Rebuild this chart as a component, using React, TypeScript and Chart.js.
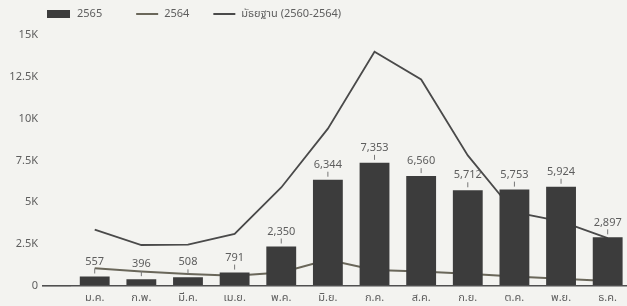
import React, { useEffect, useRef } from "react";
import { Chart, registerables } from "chart.js";

Chart.register(...registerables);

const months = ["ม.ค.", "ก.พ.", "มี.ค.", "เม.ย.", "พ.ค.", "มิ.ย.", "ก.ค.", "ส.ค.", "ก.ย.", "ต.ค.", "พ.ย.", "ธ.ค."];
const cases2565 = [557, 396, 508, 791, 2350, 6344, 7353, 6560, 5712, 5753, 5924, 2897];
const cases2564 = [1050, 850, 700, 600, 800, 1560, 950, 850, 720, 550, 420, 280];
const median2560to2564 = [3360, 2440, 2460, 3100, 5880, 9400, 14000, 12340, 7800, 4400, 3850, 2850];
const yTicks = [0, 2500, 5000, 7500, 10000, 12500, 15000];

const FONT = '"Noto Sans", "Noto Sans Thai", sans-serif';
const TEXT = "#5e5e5e";
const BAR = "#3c3c3c";
const LINE_MEDIAN = "#4a4a4a";
const LINE_2564 = "#6a675a";

const fmtK = (v: number) => (v === 0 ? "0" : `${v / 1000}K`);

const valueLabels = {
  id: "valueLabels",
  afterDatasetsDraw(chart: any) {
    const ctx = chart.ctx;
    const meta = chart.getDatasetMeta(0);
    const data = chart.data.datasets[0].data as number[];
    ctx.save();
    ctx.font = `11px ${FONT}`;
    ctx.fillStyle = TEXT;
    ctx.strokeStyle = "#777";
    ctx.lineWidth = 1;
    ctx.textAlign = "center";
    ctx.textBaseline = "middle";
    meta.data.forEach((el: any, i: number) => {
      const x = el.x;
      const y = el.y;
      ctx.beginPath();
      ctx.moveTo(x, y - 3);
      ctx.lineTo(x, y - 8);
      ctx.stroke();
      ctx.fillText(data[i].toLocaleString("en-US"), x, y - 15);
    });
    ctx.restore();
  },
};

const customLegend = {
  id: "customLegend",
  afterDraw(chart: any) {
    const ctx = chart.ctx;
    const ds = chart.data.datasets;
    const cy = 14;
    ctx.save();
    ctx.font = `11px ${FONT}`;
    ctx.textBaseline = "middle";
    ctx.textAlign = "left";
    let x = 47;
    ctx.fillStyle = ds[0].backgroundColor;
    ctx.fillRect(x, cy - 4, 23, 8);
    x += 23 + 7;
    ctx.fillStyle = TEXT;
    ctx.fillText(ds[0].label, x, cy);
    x += ctx.measureText(ds[0].label).width + 34;
    const gaps = [24, 0];
    [1, 2].forEach((k, j) => {
      ctx.strokeStyle = ds[k].borderColor;
      ctx.lineWidth = 2;
      ctx.beginPath();
      ctx.moveTo(x, cy);
      ctx.lineTo(x + 22, cy);
      ctx.stroke();
      x += 22 + 6;
      ctx.fillStyle = TEXT;
      ctx.fillText(ds[k].label, x, cy);
      x += ctx.measureText(ds[k].label).width + gaps[j];
    });
    ctx.restore();
  },
};

export default function App() {
  const ref = useRef<HTMLCanvasElement>(null);

  useEffect(() => {
    document.documentElement.style.overflow = "hidden";
    document.body.style.margin = "0";
    document.body.style.overflow = "hidden";
    document.body.style.background = "#f3f3f0";
    const chart = new Chart(ref.current as HTMLCanvasElement, {
      type: "bar",
      data: {
        labels: months,
        datasets: [
          {
            type: "bar",
            label: "2565",
            data: cases2565,
            backgroundColor: BAR,
            borderWidth: 0,
            categoryPercentage: 0.8,
            barPercentage: 0.8,
            order: 0,
          },
          {
            type: "line",
            label: "2564",
            data: cases2564,
            borderColor: LINE_2564,
            backgroundColor: LINE_2564,
            borderWidth: 2,
            pointRadius: 0,
            tension: 0,
            order: 1,
          },
          {
            type: "line",
            label: "มัธยฐาน (2560-2564)",
            data: median2560to2564,
            borderColor: LINE_MEDIAN,
            backgroundColor: LINE_MEDIAN,
            borderWidth: 1.8,
            pointRadius: 0,
            tension: 0,
            order: 2,
          },
        ] as any,
      },
      options: {
        animation: false,
        responsive: true,
        maintainAspectRatio: false,
        layout: { padding: { top: 35, left: 0, right: 0, bottom: -3 } },
        plugins: {
          legend: { display: false },
          tooltip: { enabled: false },
        },
        scales: {
          x: {
            grid: { display: false, drawTicks: false },
            border: { display: false },
            ticks: { color: TEXT, font: { family: FONT, size: 11 }, padding: 5, maxRotation: 0 },
          },
          y: {
            min: 0,
            max: 15000,
            afterBuildTicks: (scale: any) => {
              scale.ticks = yTicks.map((v) => ({ value: v }));
            },
            afterFit: (scale: any) => {
              scale.width = 71.4;
            },
            border: { display: false },
            grid: {
              drawTicks: true,
              tickLength: 29.4,
              color: (c: any) => (c.tick && c.tick.value === 0 ? "#505050" : "rgba(0,0,0,0)"),
              lineWidth: (c: any) => (c.tick && c.tick.value === 0 ? 1.6 : 0),
            },
            ticks: {
              color: TEXT,
              font: { family: FONT, size: 11 },
              padding: 4,
              callback: (v: any) => fmtK(Number(v)),
            },
          },
        },
      },
      plugins: [valueLabels, customLegend],
    });
    return () => chart.destroy();
  }, []);

  return (
    <div style={{ position: "absolute", left: 0, top: 0, width: 631, height: 306 }}>
      <canvas ref={ref} />
    </div>
  );
}
